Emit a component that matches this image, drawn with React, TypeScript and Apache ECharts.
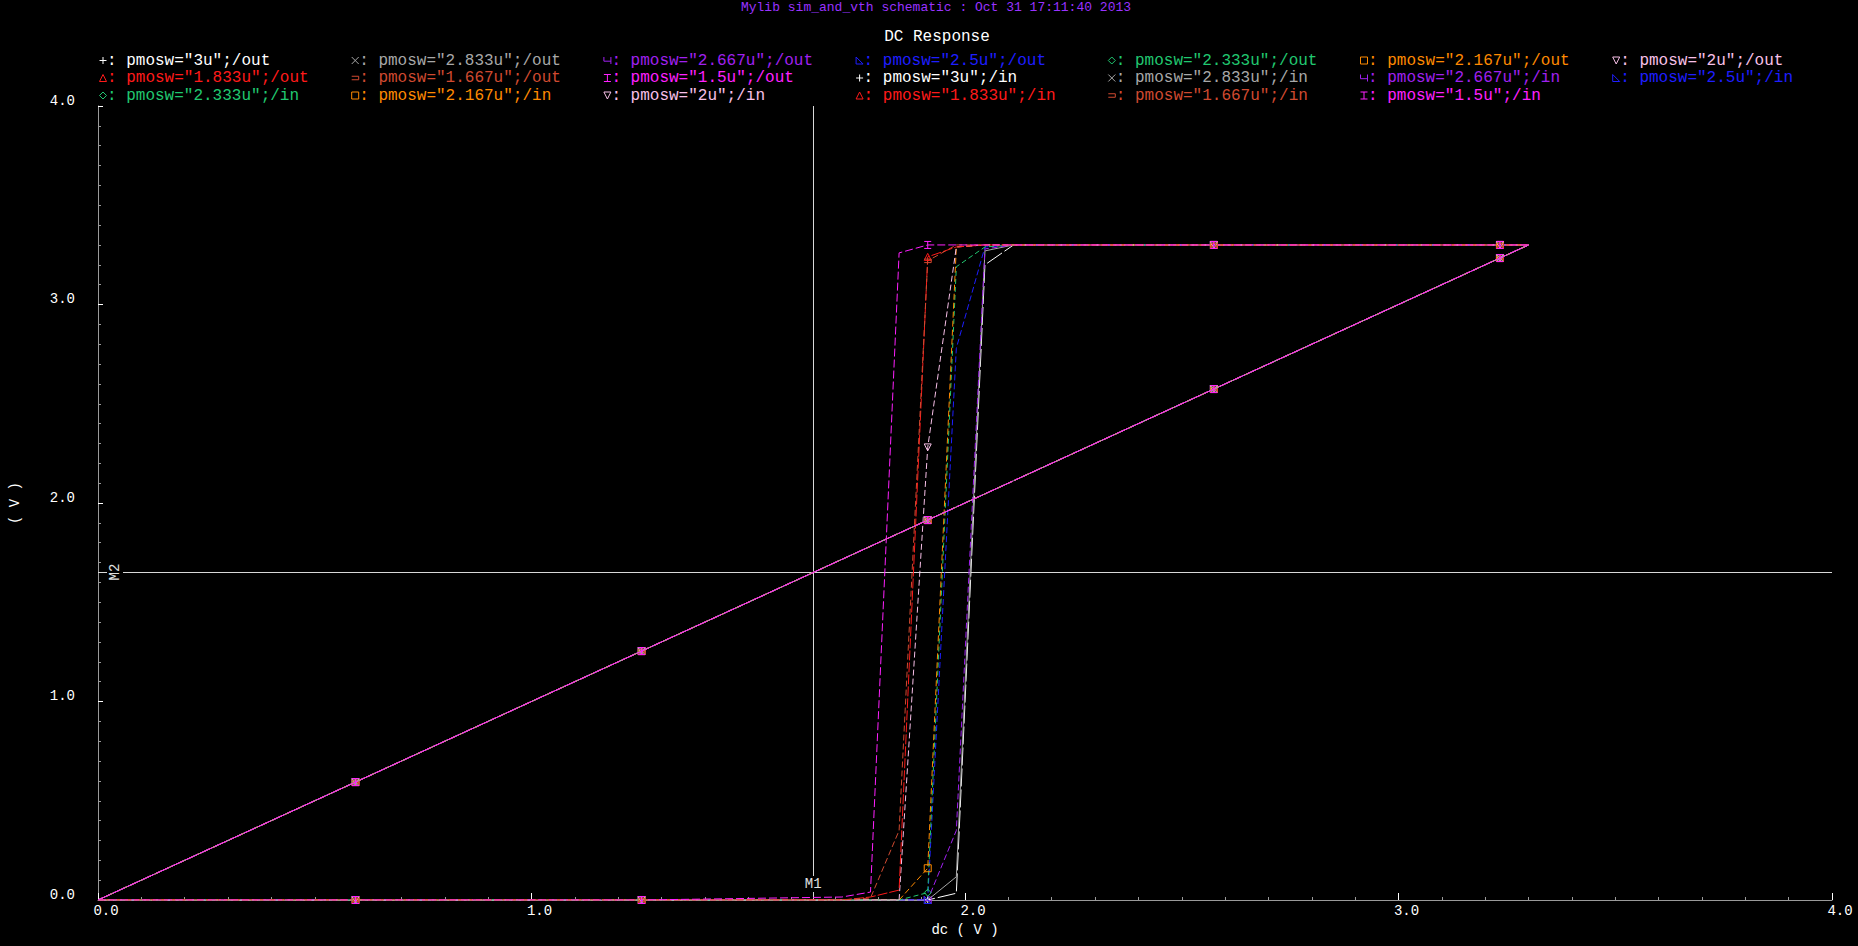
import React, { useEffect, useRef } from "react";
import * as echarts from "echarts";

const TITLE = "Mylib sim_and_vth schematic : Oct 31 17:11:40 2013";
const SUBTITLE = "DC Response";
const X_NAME = "dc ( V )";
const Y_NAME = "( V )";

const WIDTHS = ["3u", "2.833u", "2.667u", "2.5u", "2.333u", "2.167u", "2u", "1.833u", "1.667u", "1.5u"];
const COLORS = ["#ffffff", "#a8a8a8", "#a020f0", "#1e1eff", "#20c870", "#ff8a00", "#f8c0e8", "#ff1a1a", "#d04a30", "#ff20ff"];

// dc sweep points (V)
const DC = [0, 0.594, 1.254, 1.716, 1.782, 1.848, 1.914, 1.98, 2.046, 2.112, 2.574, 3.234, 3.3];
const MARKER_IDX = [1, 2, 6, 10, 11];

const OUT_3U = [0, 0, 0, 0, 0, 0, 0, 0.034, 3.2, 3.3, 3.3, 3.3, 3.3];
const OUT_2833U = [0, 0, 0, 0, 0, 0, 0, 0.117, 3.27, 3.3, 3.3, 3.3, 3.3];
const OUT_2667U = [0, 0, 0, 0, 0, 0, 0, 0.35, 3.28, 3.3, 3.3, 3.3, 3.3];
const OUT_25U = [0, 0, 0, 0, 0, 0, 0, 2.78, 3.29, 3.3, 3.3, 3.3, 3.3];
const OUT_2333U = [0, 0, 0, 0, 0, 0, 0.037, 3.19, 3.29, 3.3, 3.3, 3.3, 3.3];
const OUT_2167U = [0, 0, 0, 0, 0, 0, 0.16, 3.29, 3.3, 3.3, 3.3, 3.3, 3.3];
const OUT_2U = [0, 0, 0, 0, 0, 0, 2.28, 3.29, 3.3, 3.3, 3.3, 3.3, 3.3];
const OUT_1833U = [0, 0, 0, 0, 0.015, 0.05, 3.24, 3.29, 3.3, 3.3, 3.3, 3.3, 3.3];
const OUT_1667U = [0, 0, 0, 0, 0.01, 0.35, 3.22, 3.3, 3.3, 3.3, 3.3, 3.3, 3.3];
const OUT_15U = [0, 0, 0, 0.015, 0.04, 3.26, 3.3, 3.3, 3.3, 3.3, 3.3, 3.3, 3.3];
const OUT = [OUT_3U, OUT_2833U, OUT_2667U, OUT_25U, OUT_2333U, OUT_2167U, OUT_2U, OUT_1833U, OUT_1667U, OUT_15U];

const IN_V = [0, 0.594, 1.254, 1.716, 1.782, 1.848, 1.914, 1.98, 2.046, 2.112, 2.574, 3.234, 3.3];

const CURSOR_X = 1.65;
const CURSOR_Y = 1.652;

type Stroke = { pts: number[][]; closed?: boolean };
const S = 3.5;
const SHAPES: Stroke[][] = [
  [{ pts: [[0, -1], [0, 1]] }, { pts: [[-1, 0], [1, 0]] }],
  [{ pts: [[-1, -1], [1, 1]] }, { pts: [[1, -1], [-1, 1]] }],
  [{ pts: [[-1, -1], [-1, 0.2], [1, 0.2]] }, { pts: [[1, -1], [1, 1]] }],
  [{ pts: [[-1, -1], [-1, 1], [1, 1]], closed: true }],
  [{ pts: [[0, -1], [1, 0], [0, 1], [-1, 0]], closed: true }],
  [{ pts: [[-1, -1], [1, -1], [1, 1], [-1, 1]], closed: true }],
  [{ pts: [[-1, -1], [1, -1], [0, 1]], closed: true }],
  [{ pts: [[0, -1], [1, 1], [-1, 1]], closed: true }],
  [{ pts: [[-1, -0.5], [1, -0.5], [1, 0.5], [-1, 0.5]] }],
  [{ pts: [[-1, -1], [1, -1]] }, { pts: [[0, -1], [0, 1]] }, { pts: [[-1, 1], [1, 1]] }],
];
const DASHES: any[] = [[18, 3], "solid", [6, 3], [6, 3], [5, 3], [6, 3], [6, 3], [10, 2], [6, 3], [8, 3]];

function shapePath(sh: Stroke[]) {
  return (
    "path://" +
    sh
      .map((s) => "M" + s.pts.map((p) => `${p[0] * S} ${p[1] * S}`).join(" L") + (s.closed ? " Z" : ""))
      .join(" ")
  );
}

const MONO = '"Liberation Mono", "DejaVu Sans Mono", monospace';

export default function App() {
  const ref = useRef<HTMLDivElement>(null);
  useEffect(() => {
    if (!ref.current) return;
    const chart = echarts.init(ref.current, null, { renderer: "svg" });

    const mkSeries = (i: number, kind: "out" | "in") => {
      const vals = kind === "out" ? OUT[i] : IN_V;
      const sym = shapePath(SHAPES[i]);
      const isTopIn = kind === "in" && i === WIDTHS.length - 1;
      const isGrayIn = kind === "in" && i === 1;
      return {
        type: "line",
        name: `pmosw="${WIDTHS[i]}";/${kind}`,
        data: DC.map((x, k) => [x, vals[k]]),
        symbol: (_v: any, p: any) => (MARKER_IDX.includes(p.dataIndex) ? sym : "none"),
        symbolSize: 7,
        symbolKeepAspect: true,
        showSymbol: true,
        showAllSymbol: true,
        itemStyle: { color: "transparent", borderColor: COLORS[i], borderWidth: 1 },
        lineStyle: { color: COLORS[i], width: 1, type: isTopIn ? [14, 2] : DASHES[i] },
        emphasis: { disabled: true },
        silent: true,
        z: isTopIn ? 5 : isGrayIn ? 4 : 3,
      } as any;
    };

    const series: any[] = [];
    WIDTHS.forEach((_, i) => series.push(mkSeries(i, "out")));
    WIDTHS.forEach((_, i) => series.push(mkSeries(i, "in")));
    series[0].markLine = {
      silent: true,
      symbol: ["none", "none"],
      label: { show: false },
      lineStyle: { color: "#d8d8d8", type: "solid", width: 1 },
      data: [{ xAxis: CURSOR_X }, { yAxis: CURSOR_Y }],
      z: 1,
    };

    const legendEls: any[] = [];
    const entries: { i: number; kind: string }[] = [];
    WIDTHS.forEach((_, i) => entries.push({ i, kind: "out" }));
    WIDTHS.forEach((_, i) => entries.push({ i, kind: "in" }));
    entries.forEach((e, n) => {
      const row = Math.floor(n / 7);
      const col = n % 7;
      const tx = 126 + col * 252.2;
      const ty = 60.5 + row * 17.5;
      const mx = tx - 23;
      SHAPES[e.i].forEach((s, si) => {
        legendEls.push({
          type: s.closed ? "polygon" : "polyline",
          id: `lm${n}_${si}`,
          shape: { points: s.pts.map((p) => [mx + p[0] * 3.5, ty + p[1] * 3.5]) },
          style: { stroke: COLORS[e.i], fill: "none", lineWidth: 1 },
          silent: true,
          z: 10,
        });
      });
      legendEls.push({
        type: "text",
        id: `lt${n}`,
        x: tx - 19,
        y: ty,
        style: {
          text: `: pmosw="${WIDTHS[e.i]}";/${e.kind}`,
          fill: COLORS[e.i],
          font: `16px ${MONO}`,
          align: "left",
          verticalAlign: "middle",
        },
        silent: true,
        z: 10,
      });
    });

    const baseGraphic = [
      {
        type: "text",
        id: "title",
        x: 936,
        y: 7,
        style: { text: TITLE, fill: "#9932ff", font: `13px ${MONO}`, align: "center", verticalAlign: "middle" },
        z: 10,
      },
      {
        type: "text",
        id: "sub",
        x: 937,
        y: 37,
        style: { text: SUBTITLE, fill: "#ffffff", font: `16px ${MONO}`, align: "center", verticalAlign: "middle" },
        z: 10,
      },
      ...legendEls,
    ];

    chart.setOption({
      animation: false,
      backgroundColor: "#000000",
      grid: { left: 95, right: 26, top: 106, bottom: 46, containLabel: false },
      xAxis: {
        type: "value",
        min: 0,
        max: 4,
        interval: 1,
        name: X_NAME,
        nameLocation: "middle",
        nameGap: 21,
        nameTextStyle: { color: "#ffffff", fontFamily: MONO, fontSize: 14 },
        axisLine: { show: true, onZero: false, lineStyle: { color: "#9a9a9a", width: 1 } },
        axisTick: { show: true, inside: true, length: 7, lineStyle: { color: "#ffffff" } },
        minorTick: { show: true, splitNumber: 10, length: 3, lineStyle: { color: "#9a9a9a" } },
        splitLine: { show: false },
        axisLabel: {
          margin: 4,
          formatter: (v: number) => `{a|${v.toFixed(1)}}`,
          rich: { a: { color: "#ffffff", fontFamily: MONO, fontSize: 14, padding: [0, 0, 0, 16] } },
        },
      },
      yAxis: {
        type: "value",
        min: 0,
        max: 4,
        interval: 1,
        name: Y_NAME,
        nameLocation: "middle",
        nameGap: 76,
        nameRotate: 90,
        nameTextStyle: { color: "#ffffff", fontFamily: MONO, fontSize: 14 },
        axisLine: { show: true, onZero: false, lineStyle: { color: "#9a9a9a", width: 1 } },
        axisTick: { show: true, inside: true, length: 5, lineStyle: { color: "#ffffff" } },
        minorTick: { show: true, splitNumber: 10, length: 3, lineStyle: { color: "#9a9a9a" } },
        splitLine: { show: false },
        axisLabel: {
          margin: 23,
          formatter: (v: number) => `{a|${v.toFixed(1)}}`,
          rich: { a: { color: "#ffffff", fontFamily: MONO, fontSize: 14, padding: [0, 0, 11, 0] } },
        },
      },
      graphic: baseGraphic,
      series,
    });

    const pc = chart.convertToPixel({ gridIndex: 0 }, [CURSOR_X, CURSOR_Y]) as number[];
    const p0 = chart.convertToPixel({ gridIndex: 0 }, [0, 0]) as number[];
    chart.setOption({
      graphic: [
        ...baseGraphic,
        {
          type: "text",
          id: "m1",
          x: pc[0],
          y: p0[1] - 16,
          style: {
            text: "M1",
            fill: "#e0e0e0",
            font: `14px ${MONO}`,
            align: "center",
            verticalAlign: "middle",
            backgroundColor: "#000000",
            padding: [1, 1],
          },
          z: 20,
        },
        {
          type: "text",
          id: "m2",
          x: p0[0] + 17,
          y: pc[1],
          rotation: Math.PI / 2,
          style: {
            text: "M2",
            fill: "#e0e0e0",
            font: `14px ${MONO}`,
            align: "center",
            verticalAlign: "middle",
            backgroundColor: "#000000",
            padding: [1, 1],
          },
          z: 20,
        },
      ],
    });

    return () => chart.dispose();
  }, []);

  return (
    <div
      ref={ref}
      style={{ position: "fixed", left: 0, top: 0, width: 1858, height: 946, background: "#000" }}
    />
  );
}
